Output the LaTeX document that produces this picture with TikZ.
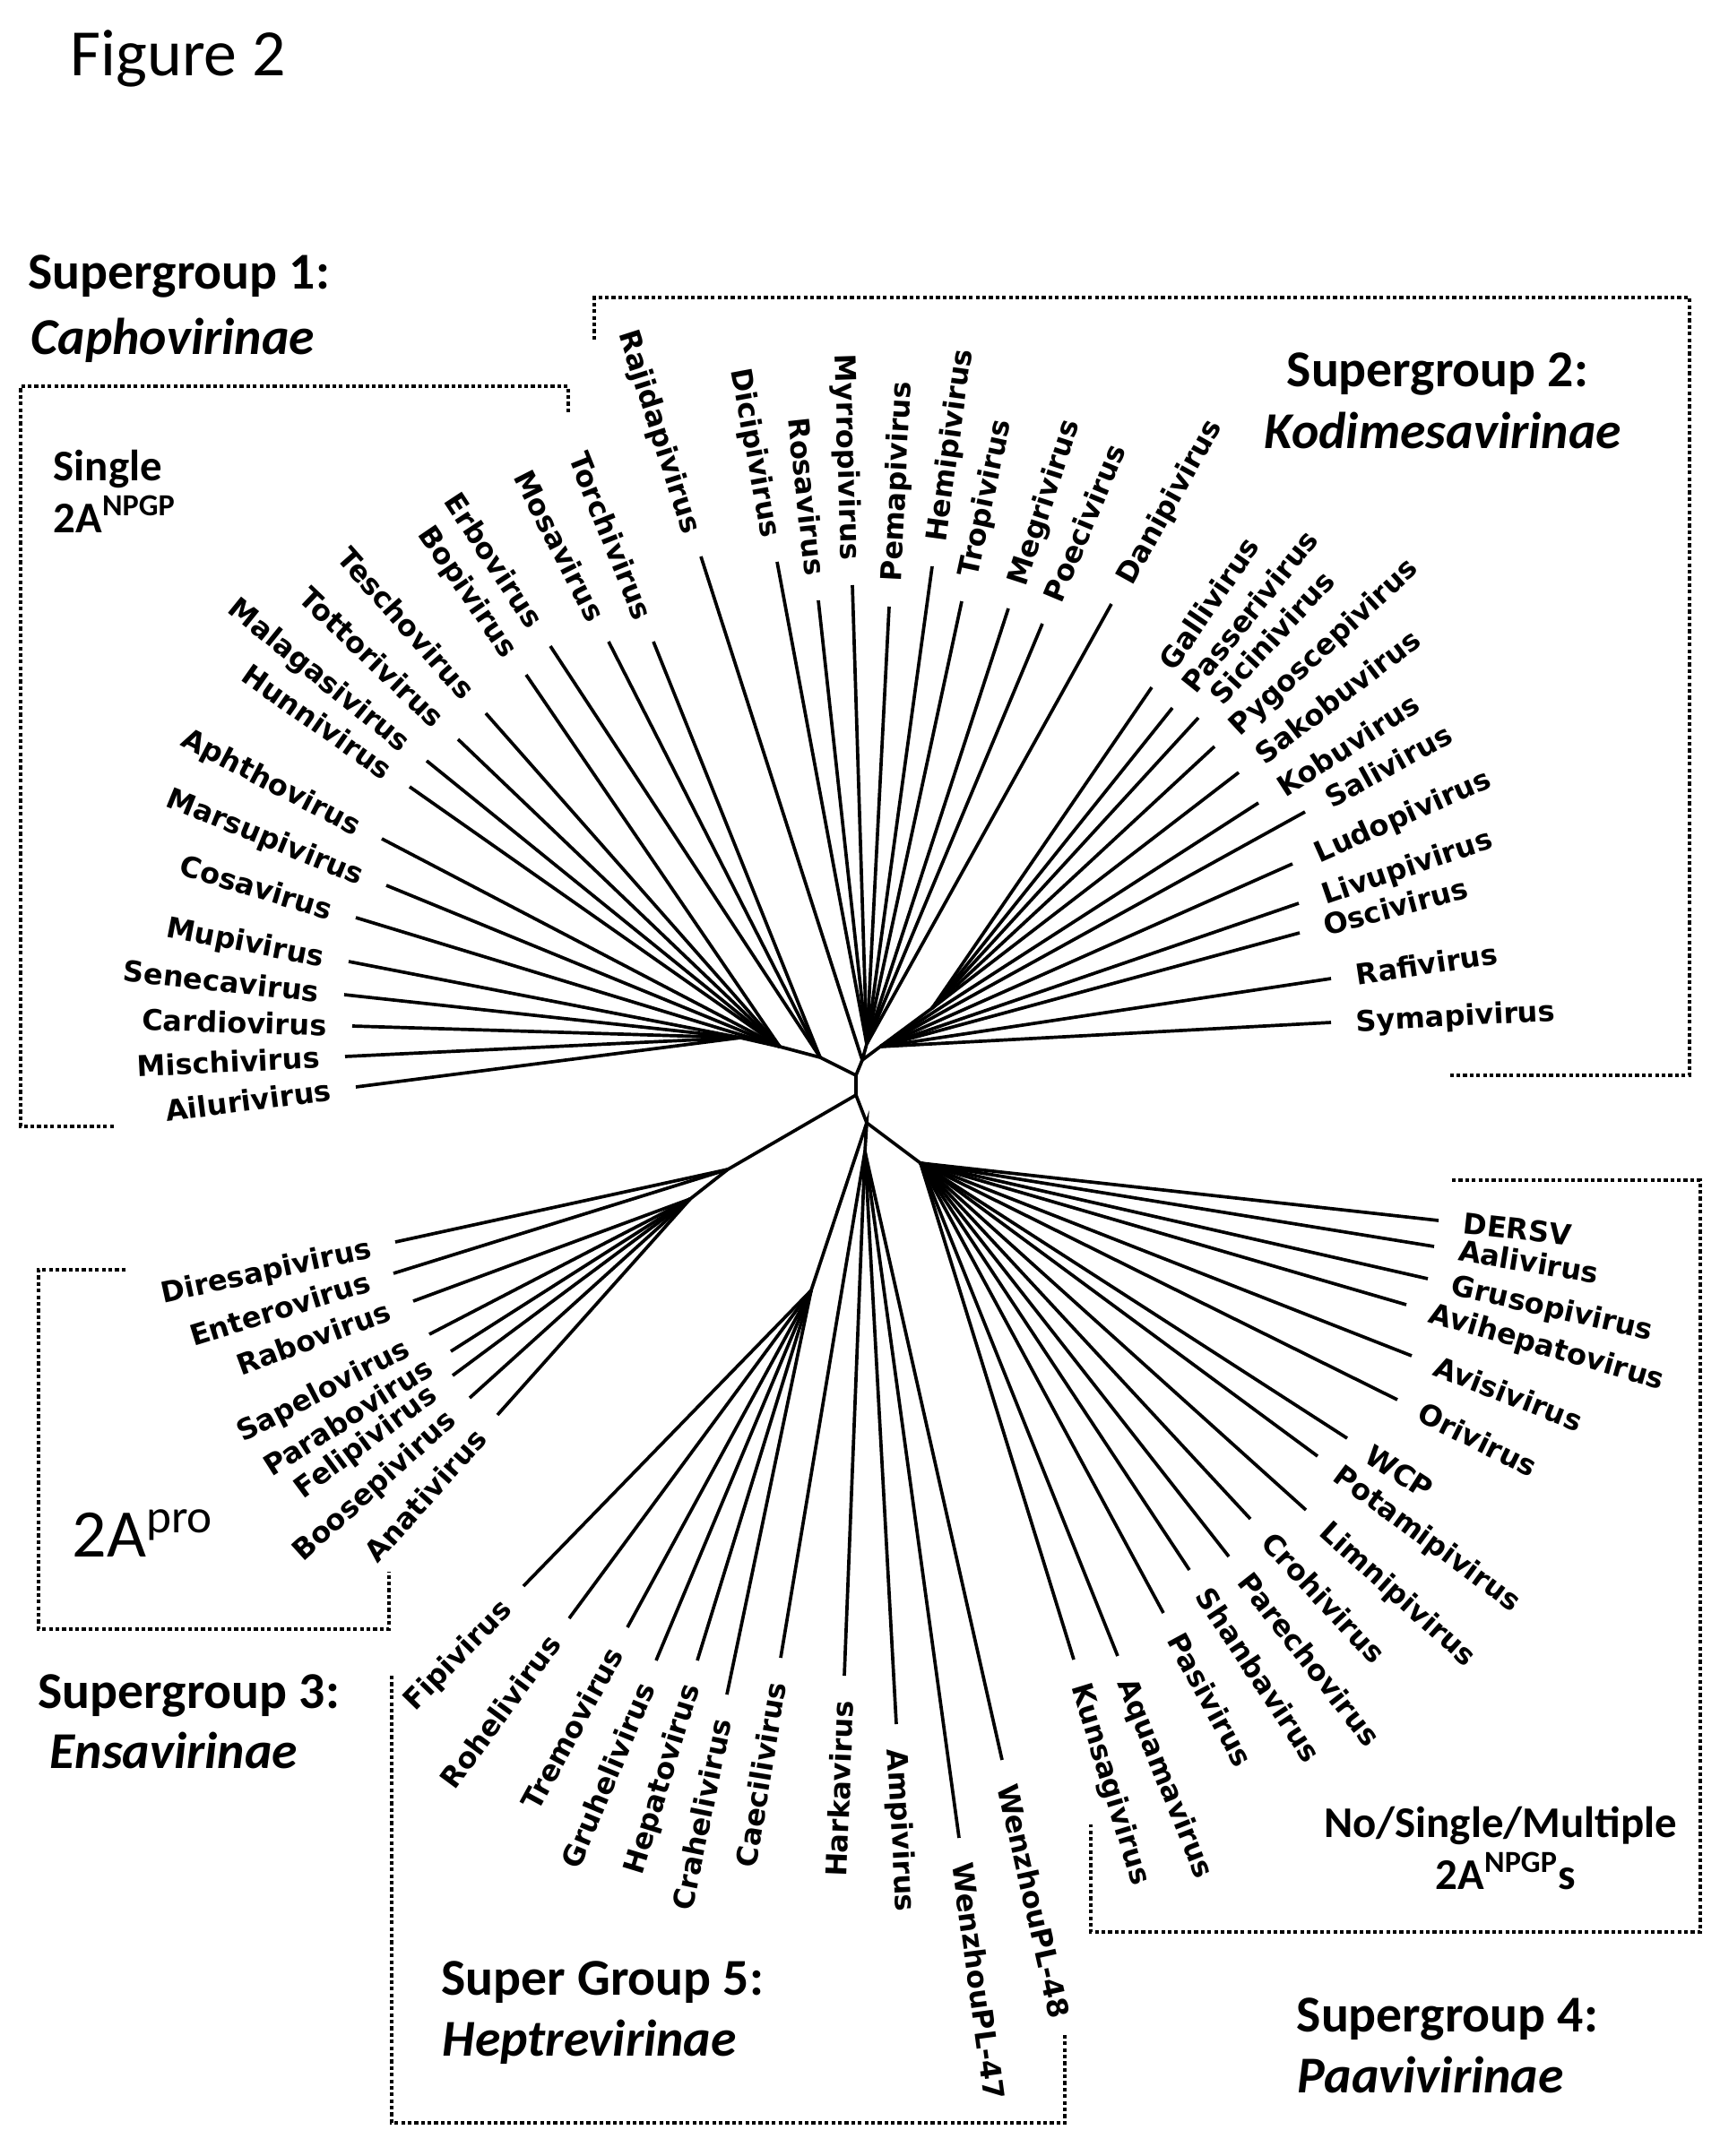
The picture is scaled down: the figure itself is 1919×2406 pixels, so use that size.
\documentclass[tikz,border=0pt]{standalone}
\usepackage{fontspec}
\setmainfont{Carlito}
\newfontfamily\taxfont{DejaVu Sans}
\usetikzlibrary{calc}
\tikzset{
    branch/.style={line width=1.05pt}, % 树枝
    taxon/.style={font=\taxfont\bfseries\fontsize{9.1}{10}\selectfont, inner xsep=7.5pt, inner ysep=0pt, text height=6.6pt, text depth=0pt}, % 属名
    groupbox/.style={line width=1.2pt, dash pattern=on 1.2pt off 0.9pt}, % 虚线框
    title/.style={font=\bfseries\fontsize{16.4}{18}\selectfont, anchor=base west, inner sep=0pt}, % 超群标题
    subtitle/.style={title, font=\bfseries\itshape\fontsize{16.4}{18}\selectfont}, % 亚科名
    note/.style={font=\bfseries\fontsize{13.9}{16}\selectfont, inner sep=0pt} % 2A 注释
}
% 一片叶子: 内节点, 末端 x,y, 名称, l/r (标签在左或右)
\newcommand{\leaf}[4]{%
    \coordinate (#3-tip) at (#2);
    \if#4l
        \draw[branch] (#3-tip) -- (#1) node[taxon, pos=0, sloped, anchor=east] (#3) {#3};
    \else
        \draw[branch] (#1) -- (#3-tip) node[taxon, pos=1, sloped, anchor=west] (#3) {#3};
    \fi}

\begin{document}
\begin{tikzpicture}[x=0.01cm, y=-0.01cm]
    \useasboundingbox (0,0) rectangle (1919,2406);
    \fill[white] (0,0) rectangle (1919,2406);

    \node[font=\fontsize{21}{24}\selectfont, anchor=base west, inner sep=0pt] (fig) at (78,85) {Figure 2};

    % 内节点
    \coordinate (c0) at (955,1200);
    \coordinate (c1) at (955,1222);
    \coordinate (a1) at (826,1158);
    \coordinate (a2) at (870,1168);
    \coordinate (a3) at (915,1180);
    \coordinate (b0) at (962,1183);
    \coordinate (bt) at (967,1165);
    \coordinate (br) at (982,1168);
    \coordinate (br2) at (1040,1125);
    \coordinate (e0) at (812,1305);
    \coordinate (e1) at (770,1338);
    \coordinate (n5) at (967,1253);
    \coordinate (f1) at (905,1440);
    \coordinate (f2) at (965,1285);
    \coordinate (g0) at (1027,1298);

    \draw[branch] (a1) -- (a2) -- (a3) -- (c0) -- (c1) -- (n5) -- (g0);
    \draw[branch] (b0) -- (c0);
    \draw[branch] (bt) -- (b0) -- (br) -- (br2);
    \draw[branch] (e1) -- (e0) -- (c1);
    \draw[branch] (f1) -- (n5) -- (f2);

    % Supergroup 1
    \foreach \x/\y/\vname in {397/1213/Ailurivirus, 385/1179/Mischivirus, 393/1145/Cardiovirus, 384/1110/Senecavirus, 389/1073/Mupivirus}
        {\leaf{a1}{\x,\y}{\vname}{l}}
    \foreach \x/\y/\vname in {397/1024/Cosavirus, 431/988/Marsupivirus, 426/936/Aphthovirus, 457/878/Hunnivirus, 476/849/Malagasivirus, 511/825/Tottorivirus, 542/796/Teschovirus, 587/753/Bopivirus}
        {\leaf{a2}{\x,\y}{\vname}{l}}
    \foreach \x/\y/\vname in {614/721/Erbovirus, 679/716/Mosavirus, 729/716/Torchivirus}
        {\leaf{a3}{\x,\y}{\vname}{l}}

    % Supergroup 2
    \leaf{b0}{782,621}{Rajidapivirus}{l}
    \foreach \x/\y/\vname/\side in {867/627/Dicipivirus/l, 913/670/Rosavirus/l, 951/653/Myrropivirus/l, 992/677/Pemapivirus/r, 1040/632/Hemipivirus/r, 1073/671/Tropivirus/r, 1125/679/Megrivirus/r, 1163/696/Poecivirus/r, 1240/674/Danipivirus/r}
        {\leaf{bt}{\x,\y}{\vname}{\side}}
    \foreach \x/\y/\vname in {1285/767/Gallivirus, 1308/790/Passerivirus, 1337/801/Sicinivirus, 1355/833/Pygoscepivirus, 1382/862/Sakobuvirus}
        {\leaf{br2}{\x,\y}{\vname}{r}}
    \foreach \x/\y/\vname in {1404/896/Kobuvirus, 1456/906/Salivirus, 1442/964/Ludopivirus, 1449/1008/Livupivirus, 1450/1041/Oscivirus, 1485/1092/Rafivirus, 1485/1141/Symapivirus}
        {\leaf{br}{\x,\y}{\vname}{r}}

    % Supergroup 3
    \foreach \x/\y/\vname in {441/1386/Diresapivirus, 439/1421/Enterovirus}
        {\leaf{e0}{\x,\y}{\vname}{l}}
    \foreach \x/\y/\vname in {461/1452/Rabovirus, 479/1489/Sapelovirus, 503/1508/Parabovirus, 505/1535/Felipivirus, 524/1560/Boosepivirus, 555/1579/Anativirus}
        {\leaf{e1}{\x,\y}{\vname}{l}}

    % Supergroup 4
    \foreach \x/\y/\vname in {1605/1362/DERSV, 1600/1391/Aalivirus, 1593/1427/Grusopivirus, 1569/1456/Avihepatovirus, 1575/1513/Avisivirus, 1559/1562/Orivirus, 1503/1605/WCP, 1470/1625/Potamipivirus, 1457/1685/Limnipivirus, 1395/1695/Crohivirus, 1371/1737/Parechovirus, 1327/1752/Shanbavirus, 1298/1800/Pasivirus, 1247/1848/Aquamavirus, 1198/1852/Kunsagivirus}
        {\leaf{g0}{\x,\y}{\vname}{r}}

    % Super Group 5
    \foreach \x/\y/\vname in {584/1770/Fipivirus, 635/1806/Rohelivirus, 700/1816/Tremovirus, 732/1853/Gruhelivirus, 778/1853/Hepatovirus, 811/1891/Crahelivirus}
        {\leaf{f1}{\x,\y}{\vname}{l}}
    \foreach \x/\y/\vname/\side in {871/1850/Caecilivirus/l, 942/1870/Harkavirus/l, 1000/1924/Ampivirus/r, 1070/2051/WenzhouPL-47/r, 1118/1964/WenzhouPL-48/r}
        {\leaf{f2}{\x,\y}{\vname}{\side}}

    % 虚线框
    \draw[groupbox] (634,460) -- (634,431) -- (23,431) -- (23,1257) -- (129,1257);
    \draw[groupbox] (663,379) -- (663,332) -- (1885,332) -- (1885,1200) -- (1616,1200);
    \draw[groupbox] (1620,1317) -- (1897,1317) -- (1897,2156) -- (1217,2156) -- (1217,2036);
    \draw[groupbox] (140,1417) -- (43,1417) -- (43,1818) -- (434,1818) -- (434,1754);
    \draw[groupbox] (437,1870) -- (437,2369) -- (1188,2369) -- (1188,2268);

    % 标题
    \node[title] (sg1) at (31,322) {Supergroup 1:};
    \node[subtitle] (sg1name) at (34,395) {Caphovirinae};
    \node[note, anchor=base west] (single) at (59,536) {Single};
    \node[note, anchor=base west] (npgp) at (59,594) {2A\textsuperscript{NPGP}};
    \node[title] (sg2) at (1435,431) {Supergroup 2:};
    \node[subtitle] (sg2name) at (1410,500) {Kodimesavirinae};
    \node[title] (sg3) at (42,1906) {Supergroup 3:};
    \node[subtitle] (sg3name) at (55,1973) {Ensavirinae};
    \node[font=\fontsize{21.6}{24}\selectfont, anchor=base west, inner sep=0pt] (pro) at (80,1737) {2A\textsuperscript{pro}};
    \node[note, anchor=base] (multi) at (1674,2050) {No/Single/Multiple};
    \node[note, anchor=base] (npgps) at (1680,2108) {2A\textsuperscript{NPGP}s};
    \node[title] (sg4) at (1446,2267) {Supergroup 4:};
    \node[subtitle] (sg4name) at (1447,2335) {Paavivirinae};
    \node[title] (sg5) at (492,2226) {Super Group 5:};
    \node[subtitle] (sg5name) at (493,2294) {Heptrevirinae};
\end{tikzpicture}
\end{document}
